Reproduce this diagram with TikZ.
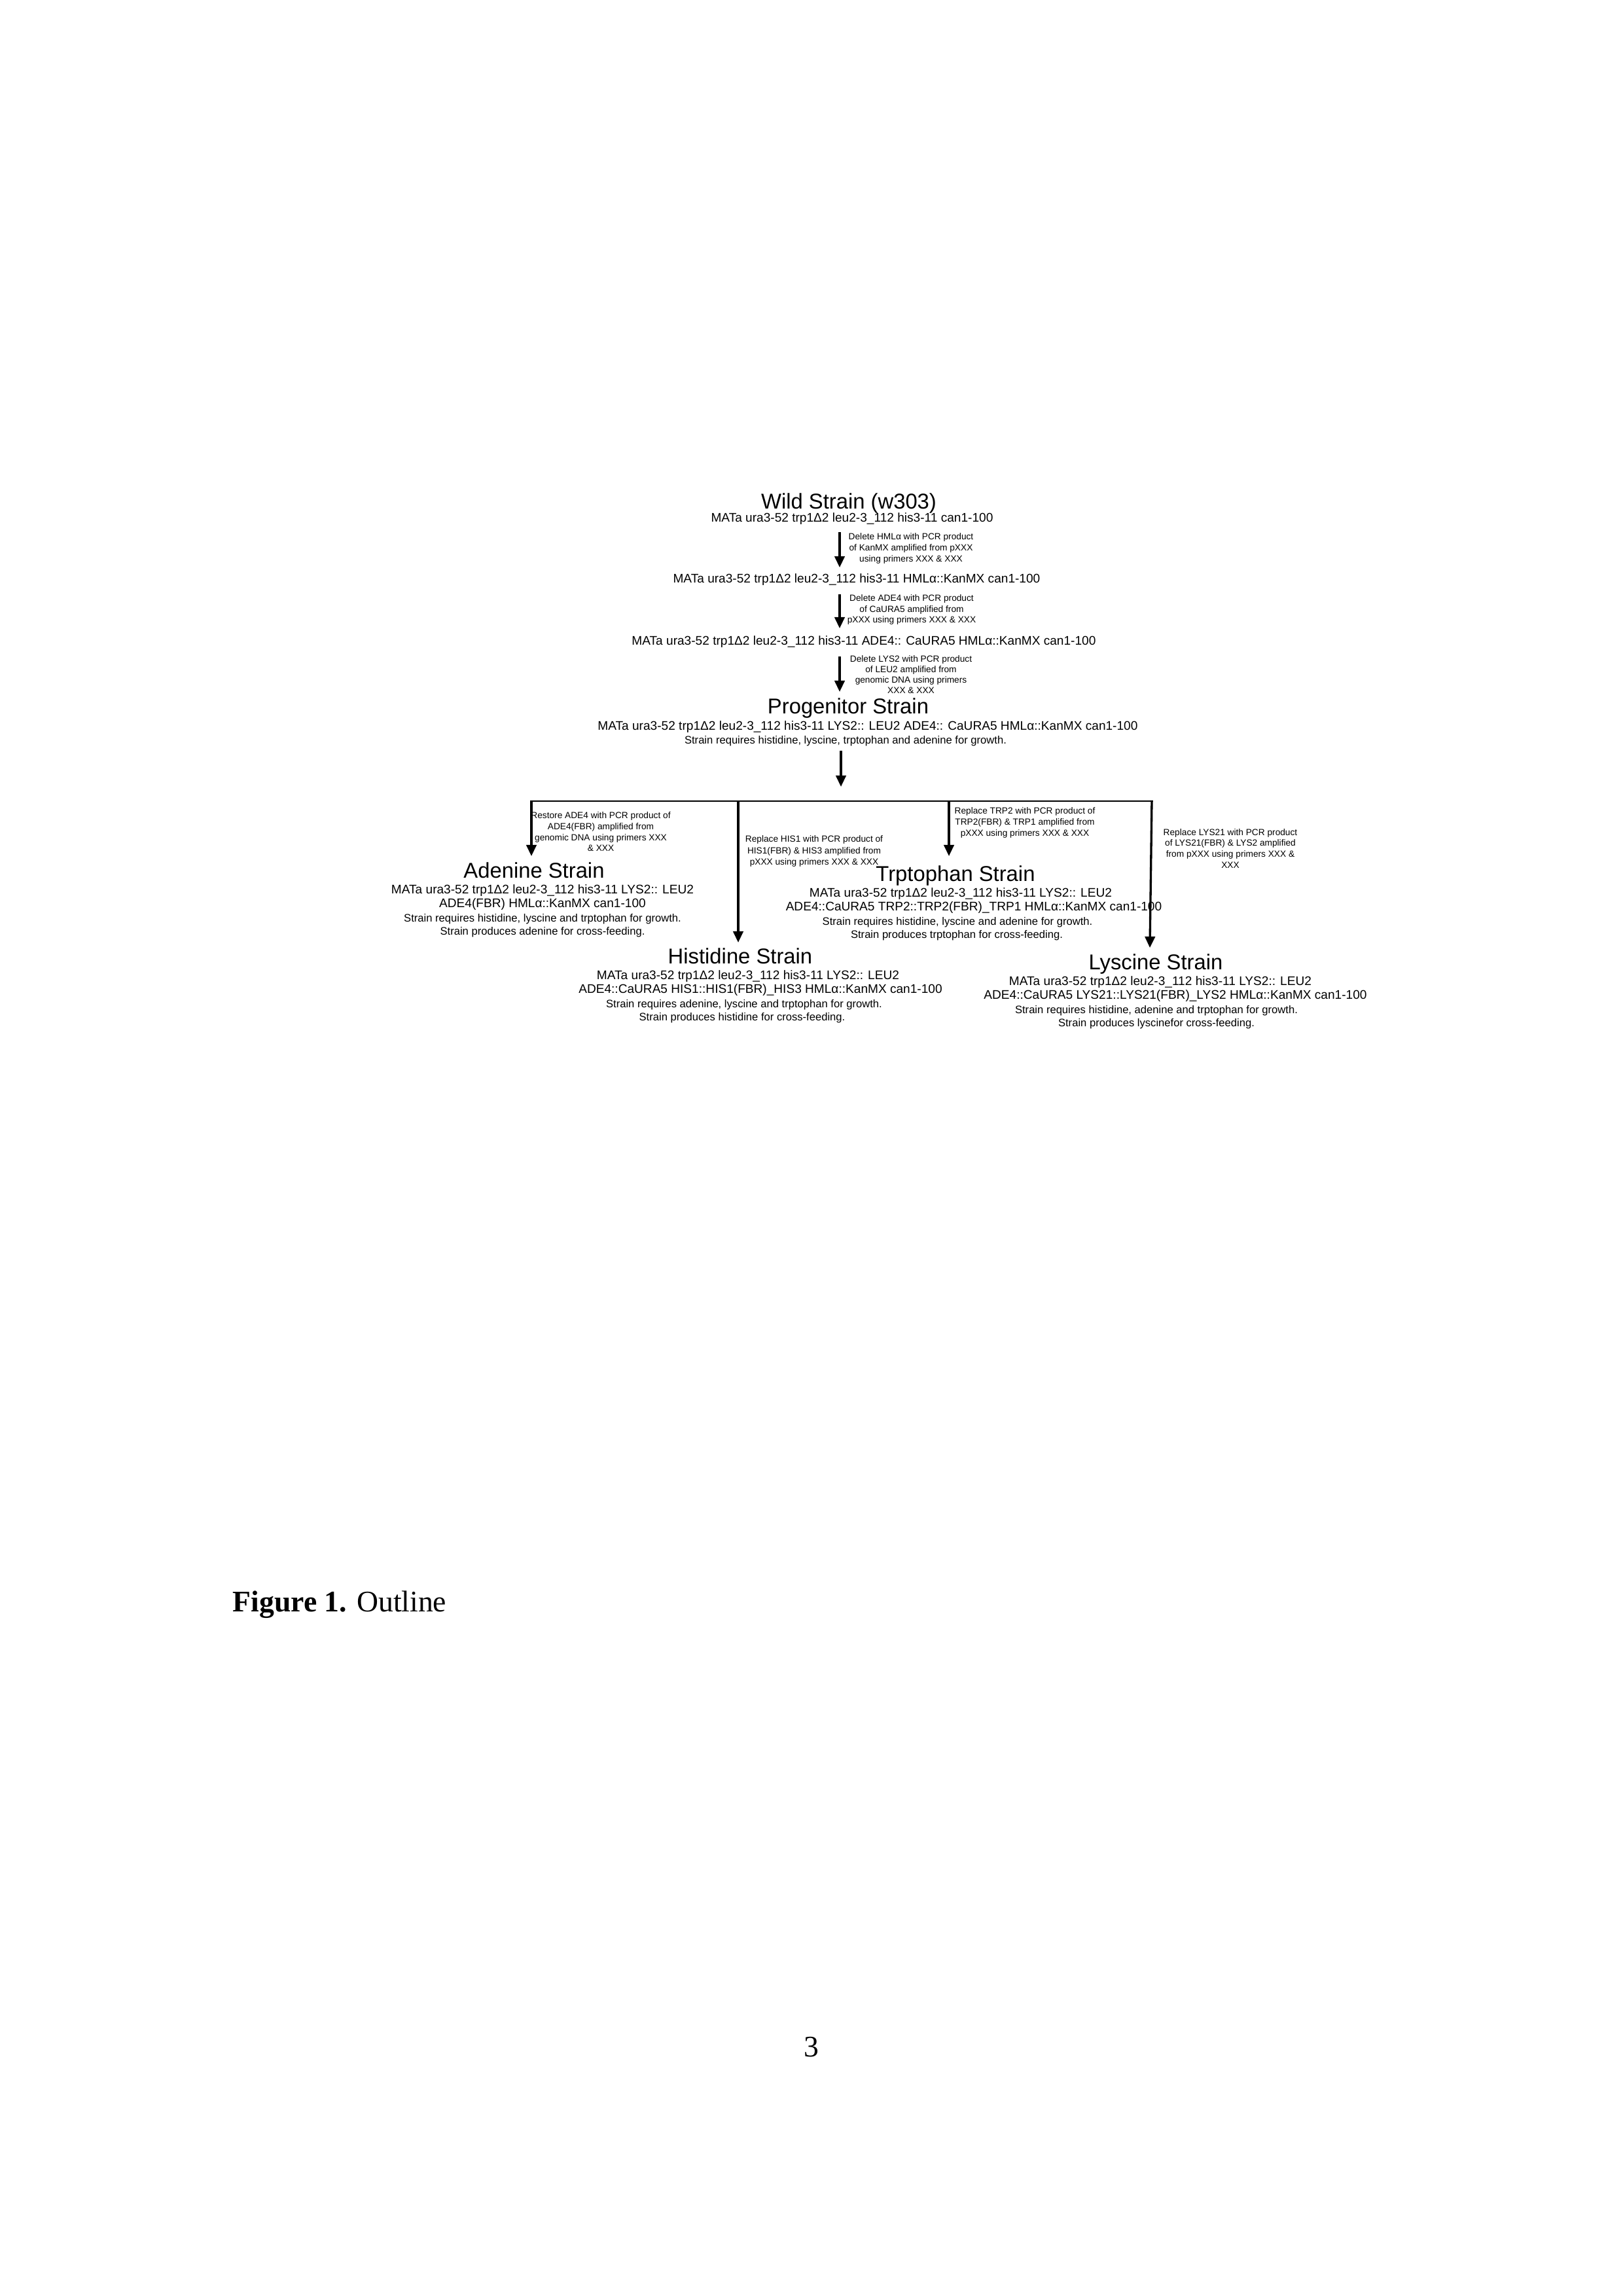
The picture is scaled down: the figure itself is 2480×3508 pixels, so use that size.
\documentclass[tikz,border=0pt]{standalone}
\usepackage{fontspec}
\setmainfont{Liberation Sans}
\newfontfamily\capfont{Liberation Serif}
\usetikzlibrary{arrows.meta}
\begin{document}
\begin{tikzpicture}[x=0.0846667mm,y=-0.0846667mm,
  ttl/.style={font=\fontsize{7.9}{9}\selectfont, inner sep=0pt, anchor=base},
  geno/.style={font=\fontsize{4.6}{5.5}\selectfont, inner sep=0pt, anchor=base},
  req/.style={font=\fontsize{4}{4.8}\selectfont, inner sep=0pt, anchor=base},
  lab/.style={font=\fontsize{3.3}{4}\selectfont, inner sep=0pt, anchor=base},
  arr/.style={line width=0.8pt, -{Triangle[length=1.45mm,width=1.3mm]}},
  barline/.style={line width=0.65pt}]
\useasboundingbox (0,0) rectangle (2480,3508);

% ---------- top chain ----------
\node[ttl]  (wildT) at (1297,777) {Wild Strain (w303)};
\node[geno] (wild)  at (1302,797) {MATa ura3-52 trp1Δ2 leu2-3\_112 his3-11 can1-100};
\node[lab] (l1a) at (1392,824) {Delete HMLα with PCR product};
\node[lab] (l1b) at (1392,841) {of KanMX amplified from pXXX};
\node[lab] (l1c) at (1392,858) {using primers XXX \& XXX};
\node[geno] (s2) at (1309,890) {MATa ura3-52 trp1Δ2 leu2-3\_112 his3-11 HMLα::KanMX can1-100};
\node[lab] (l2a) at (1393,918) {Delete ADE4 with PCR product};
\node[lab] (l2b) at (1393,935) {of CaURA5 amplified from};
\node[lab] (l2c) at (1393,951) {pXXX using primers XXX \& XXX};
\node[geno] (s3) at (1320,985) {MATa ura3-52 trp1Δ2 leu2-3\_112 his3-11 ADE4:: CaURA5 HMLα::KanMX can1-100};
\node[lab] (l3a) at (1392,1011) {Delete LYS2 with PCR product};
\node[lab] (l3b) at (1392,1027) {of LEU2 amplified from};
\node[lab] (l3c) at (1392,1043) {genomic DNA using primers};
\node[lab] (l3d) at (1392,1059) {XXX \& XXX};
\node[ttl]  (progT) at (1296,1090) {Progenitor Strain};
\node[geno] (prog)  at (1326,1115) {MATa ura3-52 trp1Δ2 leu2-3\_112 his3-11 LYS2:: LEU2 ADE4:: CaURA5 HMLα::KanMX can1-100};
\node[req]  (progR) at (1292,1136) {Strain requires histidine, lyscine, trptophan and adenine for growth.};

\coordinate (a1s) at (1283,813);  \coordinate (a1e) at (1283,867);
\coordinate (a2s) at (1283,908);  \coordinate (a2e) at (1283,960);
\coordinate (a3s) at (1283,1003); \coordinate (a3e) at (1283,1057);
\coordinate (a4s) at (1285,1147); \coordinate (a4e) at (1285,1202);
\draw[arr] (a1s) -- (a1e);
\draw[arr] (a2s) -- (a2e);
\draw[arr] (a3s) -- (a3e);
\draw[arr] (a4s) -- (a4e);

% ---------- branch bar ----------
\coordinate (bA) at (812,1224);
\coordinate (bH) at (1128,1224);
\coordinate (bT) at (1450,1224);
\coordinate (bL) at (1760,1224);
\coordinate (tA) at (812,1308);
\coordinate (tH) at (1128,1440);
\coordinate (tT) at (1450,1308);
\coordinate (tL) at (1757,1448);
\draw[barline] ([xshift=-0.4pt]bA) -- ([xshift=0.4pt]bL);
\draw[arr] ([yshift=0.3pt]bA) -- (tA);
\draw[arr] (bH) -- (tH);
\draw[arr] (bT) -- (tT);
\draw[arr] ([yshift=0.3pt]bL) -- (tL);

% ---------- branch labels ----------
\node[lab] (la1) at (918,1250) {Restore ADE4 with PCR product of};
\node[lab] (la2) at (918,1267) {ADE4(FBR) amplified from};
\node[lab] (la3) at (918,1284) {genomic DNA using primers XXX};
\node[lab] (la4) at (918,1300) {\& XXX};

\node[lab] (lh1) at (1244,1286) {Replace HIS1 with PCR product of};
\node[lab] (lh2) at (1244,1304) {HIS1(FBR) \& HIS3 amplified from};
\node[lab] (lh3) at (1244,1321) {pXXX using primers XXX \& XXX};

\node[lab] (lt1) at (1566,1243) {Replace TRP2 with PCR product of};
\node[lab] (lt2) at (1566,1260) {TRP2(FBR) \& TRP1 amplified from};
\node[lab] (lt3) at (1566,1277) {pXXX using primers XXX \& XXX};

\node[lab] (ll1) at (1880,1276) {Replace LYS21 with PCR product};
\node[lab] (ll2) at (1880,1292) {of LYS21(FBR) \& LYS2 amplified};
\node[lab] (ll3) at (1880,1309) {from pXXX using primers XXX \&};
\node[lab] (ll4) at (1880,1326) {XXX};

% ---------- Adenine ----------
\node[ttl]  (adeT) at (816,1341) {Adenine Strain};
\node[geno] (ade1) at (829,1365) {MATa ura3-52 trp1Δ2 leu2-3\_112 his3-11 LYS2:: LEU2};
\node[geno] (ade2) at (829,1386) {ADE4(FBR) HMLα::KanMX can1-100};
\node[req]  (ade3) at (829,1408) {Strain requires histidine, lyscine and trptophan for growth.};
\node[req]  (ade4) at (829,1428) {Strain produces adenine for cross-feeding.};

% ---------- Trptophan ----------
\node[ttl]  (trpT) at (1460,1346) {Trptophan Strain};
\node[geno] (trp1) at (1468,1370) {MATa ura3-52 trp1Δ2 leu2-3\_112 his3-11 LYS2:: LEU2};
\node[geno] (trp2) at (1488,1391) {ADE4::CaURA5 TRP2::TRP2(FBR)\_TRP1 HMLα::KanMX can1-100};
\node[req]  (trp3) at (1463,1413) {Strain requires histidine, lyscine and adenine for growth.};
\node[req]  (trp4) at (1462,1433) {Strain produces trptophan for cross-feeding.};

% ---------- Histidine ----------
\node[ttl]  (hisT) at (1131,1472) {Histidine Strain};
\node[geno] (his1) at (1143,1496) {MATa ura3-52 trp1Δ2 leu2-3\_112 his3-11 LYS2:: LEU2};
\node[geno] (his2) at (1162,1517) {ADE4::CaURA5 HIS1::HIS1(FBR)\_HIS3 HMLα::KanMX can1-100};
\node[req]  (his3) at (1137,1539) {Strain requires adenine, lyscine and trptophan for growth.};
\node[req]  (his4) at (1134,1559) {Strain produces histidine for cross-feeding.};

% ---------- Lyscine ----------
\node[ttl]  (lysT) at (1766,1481) {Lyscine Strain};
\node[geno] (lys1) at (1773,1505) {MATa ura3-52 trp1Δ2 leu2-3\_112 his3-11 LYS2:: LEU2};
\node[geno] (lys2) at (1796,1526) {ADE4::CaURA5 LYS21::LYS21(FBR)\_LYS2 HMLα::KanMX can1-100};
\node[req]  (lys3) at (1767,1548) {Strain requires histidine, adenine and trptophan for growth.};
\node[req]  (lys4) at (1767,1568) {Strain produces lyscinefor cross-feeding.};

% ---------- caption and page number ----------
\node[anchor=base west, inner sep=0pt, font=\capfont\fontsize{11}{13}\selectfont] (cap) at (355,2462) {\textbf{Figure 1.} Outline};
\node[anchor=base, inner sep=0pt, font=\capfont\fontsize{11}{13}\selectfont] (pg) at (1240,3142) {3};
\end{tikzpicture}
\end{document}
